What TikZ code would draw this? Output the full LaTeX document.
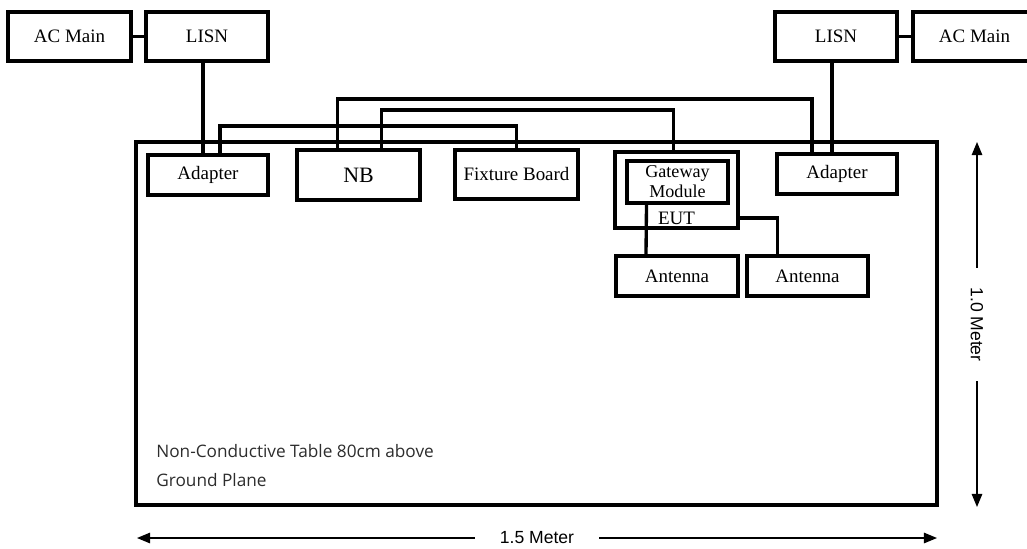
\documentclass[tikz,border=0pt]{standalone}
\usepackage{fontspec}
\setmainfont{Liberation Serif}
\newfontfamily\notefont{Open Sans}
\newfontfamily\dimfont{Liberation Sans}
\usetikzlibrary{calc,arrows.meta}

\begin{document}
\begin{tikzpicture}[x=0.02cm, y=-0.02cm, >={Triangle[length=7.5pt,width=6pt]}]
	\definecolor{notegray}{RGB}{45,45,45}
	\tikzset{
		box/.style={draw, line width=2.1pt, inner sep=0pt, minimum width=2.44cm, minimum height=0.98cm, font=\fontsize{10.8}{12}\selectfont},
		wire/.style={line width=1.9pt},
		dim/.style={line width=0.8pt, <->},
		dimlabel/.style={fill=white, inner ysep=3pt, font=\dimfont\fontsize{10}{12}\selectfont},
	}
	\useasboundingbox (0,0) rectangle (1027,548);
	% table
	\node[draw, line width=2.1pt, minimum width=16.02cm, minimum height=7.26cm] (table) at (536.5,323.5) {};
	% mains and LISNs
	\node[box, minimum width=2.46cm] (acL) at (69.5,36.5) {AC Main};
	\node[box] (lisnL) at (207,36.5) {LISN};
	\node[box] (lisnR) at (836,36.5) {LISN};
	\node[box, minimum width=2.46cm] (acR) at (974.5,36.5) {AC Main};
	% on the table
	\node[box, minimum width=2.4cm, minimum height=0.8cm] (adL) at (208,175) {Adapter};
	\node[box, minimum width=2.46cm, minimum height=1.0cm, font=\fontsize{12.5}{14}\selectfont] (nb) at (358.5,175) {NB};
	\node[box, minimum width=2.46cm] (fix) at (516.5,174.5) {Fixture Board};
	\node[box, minimum width=2.46cm, minimum height=1.52cm] (eut) at (676.5,190) {};
	\node[box, minimum width=2.02cm, minimum height=0.84cm, align=center, font=\fontsize{10.3}{11.4}\selectfont] (gw) at (677.5,182) {Gateway\\Module};
	\node[font=\fontsize{10.8}{12}\selectfont, inner sep=0pt] (eutlbl) at ($(eut.south)+(0,-11)$) {EUT};
	\node[box, minimum width=2.4cm, minimum height=0.8cm] (adR) at (837,174) {Adapter};
	\node[box, minimum height=0.8cm] (antL) at (677,276) {Antenna};
	\node[box, minimum width=2.42cm, minimum height=0.8cm] (antR) at (807.5,276) {Antenna};
	% wiring
	\draw[wire] (acL.east) -- (lisnL.west);
	\draw[wire] (lisnR.east) -- (acR.west);
	\draw[wire] ($(lisnL.south)+(-4,0)$) -- ($(adL.north)+(-5,0)$);
	\draw[wire] ($(lisnR.south)+(-4,0)$) -- ($(adR.north)+(-5,0)$);
	\draw[wire] ($(adL.north)+(12,0)$) |- ($(fix.north)+(0,-22)$) -- (fix.north);
	\draw[wire] ($(nb.north)+(-21,0)$) |- ($(adR.north)+(-25,-53)$) -- ($(adR.north)+(-25,0)$);
	\draw[wire] ($(nb.north)+(23,0)$) |- ($(eut.north)+(-3,-40)$) -- ($(eut.north)+(-3,0)$);
	\draw[wire] ($(fix.east)+(0,1.5)$) -- ($(fix.east)+(0,1.5)$ -| eut.west);
	\draw[wire] ($(gw.south)+(-31,0)$) -- ($(antL.north)+(-31,0)$);
	\draw[wire] ($(eut.east)+(0,28)$) -| ($(antR.north)+(-30,0)$);
	% notes
	\node[anchor=west, inner sep=0pt, text=notegray, font=\notefont\fontsize{9.8}{11}\selectfont] (note1) at (156,451) {Non-Conductive Table 80cm above};
	\node[anchor=west, inner sep=0pt, text=notegray, font=\notefont\fontsize{9.8}{11}\selectfont] (note2) at (156,480) {Ground Plane};
	% dimensions
	\coordinate (vtop) at (977,142);
	\coordinate (vbot) at (977,507);
	\coordinate (hleft) at (137,538);
	\coordinate (hright) at (937,538);
	\draw[dim] (vtop) -- (vbot) node[dimlabel, pos=0.5, inner xsep=11pt, rotate=-90] {1.0 Meter};
	\draw[dim] (hleft) -- (hright) node[dimlabel, pos=0.5, inner xsep=14pt] {1.5 Meter};
\end{tikzpicture}
\end{document}
